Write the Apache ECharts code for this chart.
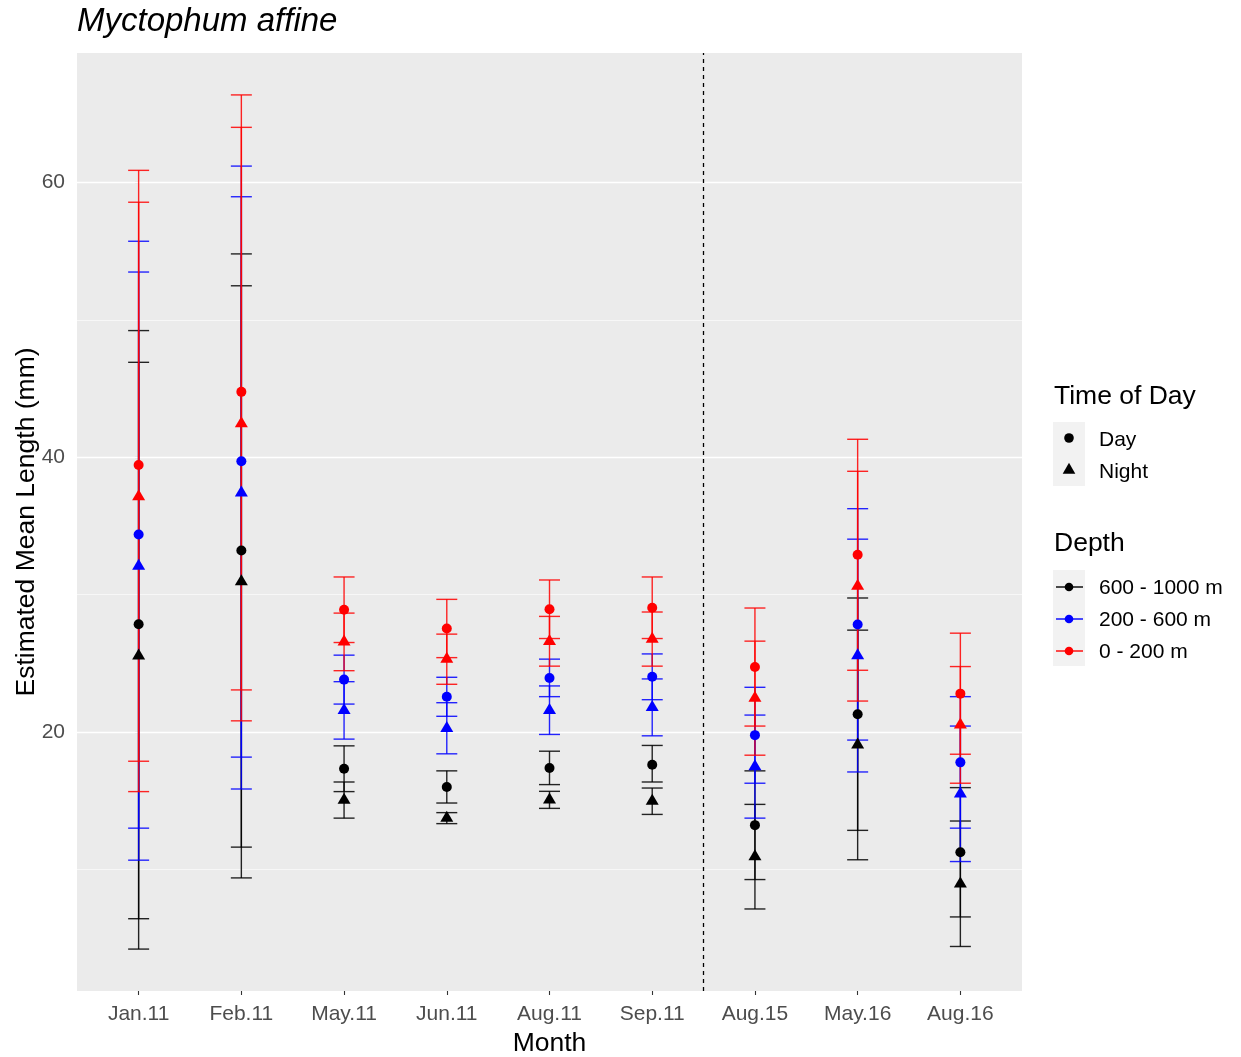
<!DOCTYPE html>
<html>
<head>
<meta charset="utf-8">
<script src="https://cdn.jsdelivr.net/npm/echarts@6/dist/echarts.min.js"></script>
<style>
html,body{margin:0;padding:0;background:#ffffff;}
#c{width:1241px;height:1057px;}
</style>
</head>
<body>
<div id="c"></div>
<script>
// ---------------- DATA ----------------
const months = ["Jan.11","Feb.11","May.11","Jun.11","Aug.11","Sep.11","Aug.15","May.16","Aug.16"];
const timeLabels = ["Day","Night"];
const depthLabels = ["600 - 1000 m","200 - 600 m","0 - 200 m"];

// 600 - 1000 m
const deepDayMean   = [27.85, 33.21, 17.34, 16.01, 17.39, 17.63, 13.23, 21.30, 11.26];
const deepDayLow    = [ 6.42, 11.63, 15.67, 14.84, 16.18, 16.37,  9.27, 12.85,  6.55];
const deepDayHigh   = [49.22, 54.80, 19.00, 17.18, 18.61, 19.03, 17.18, 29.76, 15.96];
const deepNightMean = [25.56, 30.95, 15.06, 13.74, 15.07, 14.98, 10.95, 19.07,  8.96];
const deepNightLow  = [ 4.21,  9.39, 13.74, 13.34, 14.45, 14.01,  7.13, 10.71,  4.40];
const deepNightHigh = [46.91, 52.48, 16.37, 14.14, 15.69, 15.93, 14.74, 27.42, 13.53];

// 200 - 600 m
const midDayMean    = [34.38, 39.71, 23.82, 22.57, 23.94, 24.03, 19.78, 27.83, 17.80];
const midDayLow     = [13.01, 18.18, 22.04, 21.15, 22.58, 22.36, 16.28, 19.42, 13.01];
const midDayHigh    = [55.72, 61.19, 25.60, 23.99, 25.31, 25.69, 23.26, 36.26, 22.58];
const midNightMean  = [32.08, 37.41, 21.58, 20.28, 21.59, 21.80, 17.50, 25.57, 15.51];
const midNightLow   = [10.68, 15.86, 19.49, 18.42, 19.83, 19.73, 13.74, 17.10, 10.58];
const midNightHigh  = [53.48, 58.96, 23.67, 22.14, 23.36, 23.87, 21.24, 34.04, 20.44];

// 0 - 200 m
const shallowDayMean   = [39.44, 44.76, 28.91, 27.54, 28.94, 29.05, 24.74, 32.91, 22.80];
const shallowDayLow    = [17.88, 23.07, 26.52, 25.42, 26.81, 26.81, 20.44, 24.50, 18.39];
const shallowDayHigh   = [60.88, 66.37, 31.29, 29.66, 31.07, 31.29, 29.03, 41.31, 27.20];
const shallowNightMean = [37.15, 42.45, 26.57, 25.31, 26.61, 26.77, 22.48, 30.62, 20.53];
const shallowNightLow  = [15.67, 20.82, 24.47, 23.48, 24.80, 24.80, 18.32, 22.26, 16.28];
const shallowNightHigh = [58.56, 64.01, 28.66, 27.13, 28.42, 28.74, 26.62, 38.98, 24.77];

const yTickValues = [20, 40, 60];
const yMinorValues = [10, 30, 50];
const periodBreak = 5.5;   // dashed line between Sep.11 and Aug.15

// ---------------- STYLE ----------------
const FONT = '"Liberation Sans", Arial, Helvetica, sans-serif';
const depthColors = ["#000000", "#0000FF", "#FF0000"];

const depths = [
  {name: depthLabels[0], color: depthColors[0],
   day: [deepDayMean, deepDayLow, deepDayHigh], night: [deepNightMean, deepNightLow, deepNightHigh]},
  {name: depthLabels[1], color: depthColors[1],
   day: [midDayMean, midDayLow, midDayHigh], night: [midNightMean, midNightLow, midNightHigh]},
  {name: depthLabels[2], color: depthColors[2],
   day: [shallowDayMean, shallowDayLow, shallowDayHigh], night: [shallowNightMean, shallowNightLow, shallowNightHigh]}
];

const xIdx = months.map((m, i) => i);
const series = [];

// panel grid lines
series.push({
  type: 'line', data: [], silent: true, z: 1,
  markLine: {
    silent: true, symbol: 'none', z: 1, animation: false,
    label: {show: false},
    emphasis: {disabled: true},
    data: yTickValues.map(v => ({yAxis: v, lineStyle: {color: '#FFFFFF', width: 1.3, type: 'solid'}}))
      .concat(yMinorValues.map(v => ({yAxis: v, lineStyle: {color: '#FFFFFF', width: 0.6, type: 'solid'}})))
  }
});

// error bars
depths.forEach(d => {
  const data = [];
  months.forEach((m, i) => {
    data.push([i, d.day[1][i], d.day[2][i]]);
    data.push([i, d.night[1][i], d.night[2][i]]);
  });
  series.push({
    type: 'custom', name: d.name, z: 2, silent: true,
    encode: {x: 0, y: [1, 2]},
    data: data,
    renderItem: function (params, api) {
      const x = api.value(0), lo = api.value(1), hi = api.value(2);
      const pHi = api.coord([x, hi]), pLo = api.coord([x, lo]);
      const hw = 10.5;
      const st = {stroke: d.color, lineWidth: 1.4, opacity: 0.85};
      return {
        type: 'group',
        children: [
          {type: 'line', shape: {x1: pHi[0], y1: pHi[1], x2: pLo[0], y2: pLo[1]}, style: st},
          {type: 'line', shape: {x1: pHi[0] - hw, y1: pHi[1], x2: pHi[0] + hw, y2: pHi[1]}, style: st},
          {type: 'line', shape: {x1: pLo[0] - hw, y1: pLo[1], x2: pLo[0] + hw, y2: pLo[1]}, style: st}
        ]
      };
    }
  });
});

// dashed separator
series.push({
  type: 'line', data: [], silent: true, z: 3,
  markLine: {
    silent: true, symbol: 'none', z: 3, animation: false,
    label: {show: false},
    emphasis: {disabled: true},
    data: [{xAxis: periodBreak}],
    lineStyle: {color: '#000000', width: 1.3, type: [4, 4]}
  }
});

// points
['day', 'night'].forEach((t, ti) => {
  const data = [];
  depths.forEach(d => {
    months.forEach((m, i) => {
      data.push({value: [i, d[t][0][i]], itemStyle: {color: d.color, opacity: 1}});
    });
  });
  series.push({
    type: 'scatter', name: timeLabels[ti], z: 4, silent: true,
    symbol: ti ? 'triangle' : 'circle',
    symbolSize: ti ? [13, 11] : 10,
    symbolOffset: ti ? [0, -1.8] : [0, 0],
    itemStyle: {opacity: 1},
    data: data
  });
});

// ---------------- LEGEND (graphic) ----------------
const graphic = [];
graphic.push({type: 'text', x: 1054, y: 397, style: {text: 'Time of Day', fill: '#000', fontSize: 26.5, fontFamily: FONT, verticalAlign: 'middle', align: 'left'}});
graphic.push({type: 'rect', shape: {x: 1053, y: 422, width: 32, height: 64}, style: {fill: '#F2F2F2'}});
graphic.push({type: 'circle', shape: {cx: 1069, cy: 438, r: 4.8}, style: {fill: '#000'}});
graphic.push({type: 'polygon', shape: {points: [[1069, 470 - 7.3], [1075.3, 470 + 3.7], [1062.7, 470 + 3.7]]}, style: {fill: '#000'}});
timeLabels.forEach((lab, i) => {
  graphic.push({type: 'text', x: 1099, y: 440 + i * 32, style: {text: lab, fill: '#000', fontSize: 21, fontFamily: FONT, verticalAlign: 'middle', align: 'left'}});
});
graphic.push({type: 'text', x: 1054, y: 544, style: {text: 'Depth', fill: '#000', fontSize: 26.5, fontFamily: FONT, verticalAlign: 'middle', align: 'left'}});
graphic.push({type: 'rect', shape: {x: 1053, y: 570, width: 32, height: 96}, style: {fill: '#F2F2F2'}});
depths.forEach((d, i) => {
  const cy = 587 + i * 32;
  graphic.push({type: 'line', shape: {x1: 1056, y1: cy, x2: 1083, y2: cy}, style: {stroke: d.color, lineWidth: 1.4}});
  graphic.push({type: 'circle', shape: {cx: 1069, cy: cy, r: 4.3}, style: {fill: d.color}});
  graphic.push({type: 'text', x: 1099, y: cy + 1, style: {text: d.name, fill: '#000', fontSize: 21, fontFamily: FONT, verticalAlign: 'middle', align: 'left'}});
});

// ---------------- CHART ----------------
const chart = echarts.init(document.getElementById('c'), null, {renderer: 'canvas'});
chart.setOption({
  animation: false,
  backgroundColor: '#FFFFFF',
  title: {
    text: 'Myctophum affine', left: 77, top: 5, padding: 0,
    textStyle: {fontSize: 33, fontStyle: 'italic', fontWeight: 'normal', color: '#000', fontFamily: FONT}
  },
  grid: {left: 77, right: 219, top: 53, bottom: 66, show: true, backgroundColor: '#EBEBEB', borderWidth: 0,
         containLabel: false, outerBoundsMode: 'none'},
  xAxis: {
    type: 'value', min: -0.6, max: 8.6,
    axisLine: {show: false},
    splitLine: {show: false},
    axisTick: {show: true, customValues: xIdx, length: 4, lineStyle: {color: '#333333', width: 1.1}},
    axisLabel: {customValues: xIdx, formatter: v => months[Math.round(v)], color: '#4D4D4D', fontSize: 21, fontFamily: FONT, margin: 13},
    name: 'Month', nameLocation: 'middle', nameGap: 39,
    nameTextStyle: {fontSize: 26.5, color: '#000', fontFamily: FONT}
  },
  yAxis: {
    type: 'value', min: 1.16, max: 69.42,
    axisLine: {show: false},
    splitLine: {show: false},
    axisTick: {show: true, customValues: yTickValues, length: 4, lineStyle: {color: '#333333', width: 1.1}},
    axisLabel: {customValues: yTickValues, color: '#4D4D4D', fontSize: 21, fontFamily: FONT, margin: 12},
    name: 'Estimated Mean Length (mm)', nameLocation: 'middle', nameGap: 37, nameMoveOverlap: false,
    nameTextStyle: {fontSize: 26.5, color: '#000', fontFamily: FONT}
  },
  graphic: graphic,
  series: series
});
</script>
</body>
</html>
